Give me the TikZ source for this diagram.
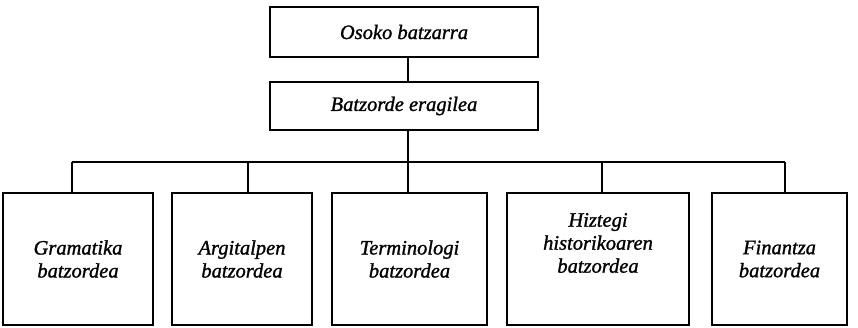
\documentclass[tikz,border=0pt]{standalone}
\usepackage{fontspec}
\setmainfont{Liberation Serif}[ItalicFeatures={FakeBold=1.2}]
\usetikzlibrary{calc}
\tikzset{
  cbox/.style={draw, line width=1.8pt, rectangle, inner sep=0pt},
  ctext/.style={font=\fontsize{20.5}{23}\selectfont\itshape, align=center, inner sep=0pt},
  conn/.style={line width=1.8pt}
}
\begin{document}
\begin{tikzpicture}[x=1pt,y=1pt]
\useasboundingbox (0,0) rectangle (858,-327);
% top boxes
\node[cbox, ctext, minimum width=268pt, minimum height=50pt] (o) at (404,-32) {Osoko batzarra};
\node[cbox, ctext, minimum width=268pt, minimum height=48pt] (b) at (404,-106) {Batzorde eragilea};
% bottom boxes
\node[cbox, ctext, minimum width=150pt, minimum height=132pt] (g) at (78,-259) {Gramatika\\batzordea};
\node[cbox, ctext, minimum width=140pt, minimum height=132pt] (a) at (242,-259) {Argitalpen\\batzordea};
\node[cbox, ctext, minimum width=155pt, minimum height=132pt] (t) at (409.5,-259) {Terminologi\\batzordea};
\node[cbox, minimum width=182pt, minimum height=132pt] (h) at (598,-259) {};
\node[ctext] (ht) at (598,-243) {Hiztegi\\historikoaren\\batzordea};
\node[cbox, ctext, minimum width=135pt, minimum height=132pt] (f) at (779.5,-259) {Finantza\\batzordea};
% junctions
\coordinate (j1) at (72,-162);
\coordinate (j2) at (248,-162);
\coordinate (j3) at (408,-162);
\coordinate (j4) at (602,-162);
\coordinate (j5) at (785,-162);
% connectors
\draw[conn] (o.south -| j3) -- (b.north -| j3);
\draw[conn] (b.south -| j3) -- (j3);
\draw[conn] (j1) -- (j5);
\draw[conn] (j1) -- (j1 |- g.north);
\draw[conn] (j2) -- (j2 |- a.north);
\draw[conn] (j3) -- (j3 |- t.north);
\draw[conn] (j4) -- (j4 |- h.north);
\draw[conn] (j5) -- (j5 |- f.north);
\end{tikzpicture}
\end{document}
